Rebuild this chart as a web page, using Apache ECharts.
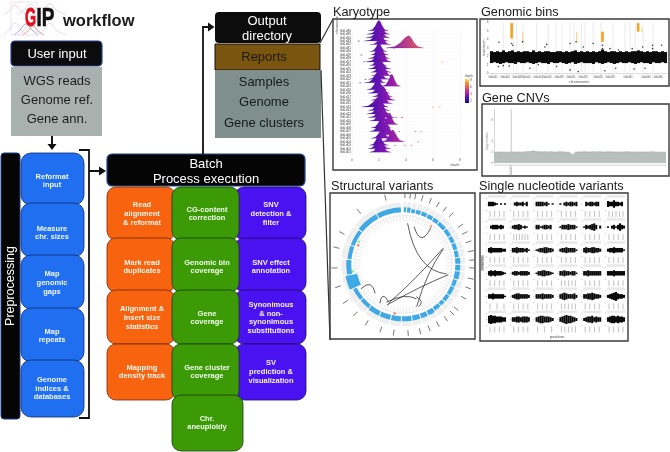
<!DOCTYPE html>
<html><head><meta charset="utf-8">
<script src="https://cdn.jsdelivr.net/npm/echarts@6/dist/echarts.min.js"></script>
<style>html,body{margin:0;padding:0;background:#fff;overflow:hidden}#c{width:670px;height:452px}</style></head>
<body><div id="c"></div><script>
// ---------- text content ----------
const userInputs = ['WGS reads','Genome ref.','Gene ann.'];
const outputs = ['Samples','Genome','Gene clusters'];
const preprocessSteps = ['Reformat\ninput','Measure\nchr. sizes','Map\ngenomic\ngaps','Map\nrepeats','Genome\nindices &\ndatabases'];
const alignSteps = ['Read\nalignment\n& reformat','Mark read\nduplicates','Alignment &\nInsert size\nstatistics','Mapping\ndensity track'];
const coverageSteps = ['CG-content\ncorrection','Genomic bin\ncoverage','Gene\ncoverage','Gene cluster\ncoverage','Chr.\naneuploidy'];
const variantSteps = ['SNV\ndetection &\nfilter','SNV effect\nannotation','Synonimous\n& non-\nsynonimous\nsubstitutions','SV\nprediction &\nvisualization'];

// ---------- karyotype ridges: peak, height (rows), left foot, right foot ----------
const karyoLabels = ['GdLd36','GdLd35','GdLd34','GdLd33','GdLd32','GdLd31','GdLd30','GdLd29','GdLd28','GdLd27','GdLd26','GdLd25','GdLd24','GdLd23','GdLd22','GdLd21','GdLd20','GdLd19','GdLd18','GdLd17','GdLd16','GdLd15','GdLd14','GdLd13','GdLd12','GdLd11','GdLd10','GdLd09','GdLd08','GdLd07','GdLd06','GdLd05','GdLd04','GdLd03','GdLd02','GdLd01'];
const karyoPeak = [2.0,2.1,2.1,2.0,2.2,4.2,2.0,2.0,2.1,2.2,1.9,2.1,2.1,2.3,2.0,1.9,2.95,1.9,2.1,2.3,2.4,2.3,2.0,2.0,2.1,2.2,2.1,2.8,2.2,2.1,2.6,2.2,3.0,2.0,2.0,2.1];
const karyoHeight = [3,2.6,2.5,2.6,2.2,3.6,2.5,2.8,3,3.2,2.3,2.5,3,2.8,2.7,2.4,3.5,3,2.8,3,3,2.6,3,3,3,3,2.5,3.2,2.8,2.5,3.2,2.4,3.5,3.1,3.1,3.2];
const karyoLeft = [1.2,1.1,1.0,0.9,1.3,2.5,1.3,1.4,1.2,1.0,1.3,1.2,1.4,1.4,1.2,0.9,2.2,1.1,1.2,1.5,1.4,1.5,0.7,1.2,1.1,1.2,1.3,2.0,1.4,1.3,1.9,1.4,2.2,1.3,1.2,1.3];
const karyoRight = [2.7,2.8,2.8,2.7,2.9,5.3,2.6,2.7,2.8,2.9,2.6,2.9,2.9,3.0,2.8,2.5,3.6,2.6,2.8,3.0,3.2,3.0,2.7,2.8,2.9,3.2,2.9,3.4,2.9,3.0,3.3,3.0,3.9,2.7,2.9,2.9];
const karyoOutliers = [[0.5,3],[0.7,7],[0.9,9],[0.6,15],[1.0,14],[6.7,9],[6.0,22],[6.5,22],[4.9,32],[5.1,29],[4.7,29],[3.7,25],[3.3,25],[3.5,29],[3.2,33],[3.9,33],[4.4,33],[3.1,5]];
const karyoTicks = [0,2,4,6,8];

// ---------- genomic bins ----------
const binTop = [2.6,2.5,2.6,2.5,2.7,2.5,2.6,2.7,2.5,2.6,2.5,2.6,2.6,2.5,2.7,2.5,2.6,2.5,2.6,2.6,2.5,2.5,2.6,2.6,2.5,2.6,2.5,2.6,2.7,2.5,2.6,2.5,2.6,2.5,2.6,2.5,2.6,2.8,2.6,2.5,2.6,2.6,2.5,2.6,2.5,2.6,2.5,2.6,2.6,2.7,2.6,2.5,2.6,2.5,2.6,2.6,2.5,2.6,2.5];
const binBottom = [1.2,1.3,1.2,1.1,1.2,1.3,1.2,1.2,1.1,1.3,1.2,1.2,1.3,1.2,1.1,1.2,1.3,1.2,1.2,1.1,1.3,1.2,1.2,1.3,1.2,1.1,1.2,1.3,1.1,1.2,1.3,1.2,1.2,1.2,1.1,1.3,1.2,1.1,1.2,1.3,1.2,1.1,1.2,1.3,1.2,1.2,1.3,1.2,1.1,1.2,1.3,1.2,1.2,1.1,1.3,1.2,1.2,1.3,1.2];
const binGrey = [4.4,7.8,8.9,11,15.5,19.4,22,24,26.7,28,30.5,31.7,34.4,37,41,45,46.7,48.4,51,54.4];
const binPoints = [[3,3.65],[7.2,3.5],[7.6,3.3],[10.9,3.7],[18.3,3.1],[18.9,3.4],[26.7,3.5],[28.7,3.7],[31.1,3.1],[34.4,3.5],[37.5,3.3],[37.5,2.9],[40,2.9],[42.8,2.75],[47.4,2.9],[50.9,3.1],[54.2,3.3],[54.2,2.9],[57.2,3.3],[2.8,0.8],[4.4,0.9],[6.4,0.85],[13.3,0.6],[16.1,1],[22.2,0.8],[26.7,0.4],[29.4,0.2],[38.3,0.3],[41.9,0.6],[48,0.5],[51.7,0.6]];
const binOrange = [[7.2,4.1,5.9],[37.5,3.7,4.9],[49.4,4.9,5.9]];
const binOrangeLight = [[10.9,3.6,4.8],[28.9,3.7,4.9],[50.6,4.9,5.3]];
const binTickAt = [1,5,9,12,16,19,23,27,31,36,40,46,52,56];
const binTickNames = ['GdLd01','GdLd04','GdLd08','GdLd10','GdLd14','GdLd16','GdLd19','GdLd21','GdLd23','GdLd26','GdLd28','GdLd31','GdLd34','GdLd36'];

// ---------- gene CNVs ----------
const cnvValues = [2.0,2.0,2.05,2.0,2.0,2.0,2.05,2.0,2.05,2.0,2.05,2.1,2.1,2.25,2.1,2.1,2.05,2.1,2.05,2.1,2.0,2.05,2.1,2.05,2.0,2.0,1.5,2.0,2.05,2.05,2.1,2.05,2.05,2.1,2.05,2.1,2.05,2.05,2.1,2.05,2.05,2.0,2.05,2.05,2.1,2.05,2.05,2.0,2.05,2.05,2.05,2.0,2.1,2.05,2.0,2.0,2.0,2.0];
const cnvSpike = [[5.7,2,10]];
const cnvYTicks = [0,2,4,8];

// ---------- structural variants ----------
const svEdges = [0,3.5,8,13,19,26,33,40,50,59,67,75,83,90,97,106,114,124,132,138,146,154,162,171,182,193,205,218,230,244,259,275,290,308,332,358];
const svTicks = [1.4,5.7,10,16,23,30,37,44,56,63,71,79,86.5,93,102,110,119,130,135,142,150,158,166,176,188,199,212,224,237,251,267,284,297,320,345];
const svBlueInner = [52,52,52,52,52,52,52,52,52,52,52,52,52,52,52,52,52,52,52,52,52,52,52,52,52,52,52,52,52,47,52,52,52,52,52];
const svBlueOuter = [57,57,56,56,56,56,56,56,56,56,56,56,57,57,57,56,56,56,56,56,57,57,57,57,57,57,57,56,56,59,57,56,56,57,57];
const svDots = [[50,297,'#5ce05c'],[49,293,'#f06a30'],[51,262,'#5ce05c'],[50,190,'#e8542a'],[47,36,'#f09050']];
// start radius/angle, end radius/angle, control radius/angle
const svLinks = [[41.2,6,44.4,102.6,14.3,116],[39.2,16,45.9,37,23.7,47],[43,68,41.8,201,20,147],[42.8,69,44.4,162.5,24.7,109],[46.2,103,44,202,27.5,144],[41.5,204,37,159,28.4,177],[35,158,45,160,43,150],[40.5,224,48.7,240,34.2,246],[45.4,211,40,202,33.6,220]];

// ---------- single nucleotide variants: band half-thickness along each panel ----------
const snvBands = [
 [3,3,3,2,1,0,1,0,1],[0,2,3,2,2,3,1,3,0],[3,3,3,3,2,3,1,0,1],[1,0,2,3,2,3,3,2,3],[0,3,2,3,3,2,3,3,0],[4,3,3,5,3,3,2,3,0],
 [0,2,3,3,3,2,3,2,0],[2,3,3,4,3,1,2,1,0],[3,3,1,2,3,3,2,3,0],[1,3,3,3,4,3,3,3,1],[1,3,2,3,4,5,3,0,2],[1,0,2,3,1,3,5,3,2],
 [3,4,3,3,3,3,3,2,2],[3,3,4,3,3,3,2,3,1],[1,2,3,3,4,4,3,3,2],[2,3,3,4,3,3,3,3,1],[3,4,3,3,4,4,3,3,2],[2,3,3,4,3,3,3,3,1],
 [3,4,3,4,3,3,3,2,1],[2,3,3,2,3,3,3,3,2],[1,3,3,4,4,3,3,2,1],[3,3,4,3,3,2,3,3,1],[3,3,4,3,3,3,3,3,3],[3,3,3,4,3,3,3,3,3],
 [3,3,4,3,3,3,3,3,1],[2,3,4,4,3,3,3,3,2],[3,3,3,4,3,3,3,3,2],[3,4,5,4,3,3,3,4,2],[3,3,4,4,5,4,3,3,2],[2,3,4,5,6,4,3,3,2],
 [5,6,5,5,4,4,4,3,3],[3,3,4,4,3,4,4,4,3],[3,4,5,5,4,4,4,3,2],[3,4,5,6,5,5,4,3,2],[2,3,4,4,5,3,4,3,3],[3,4,5,5,4,5,4,4,3]];
const snvTickCounts = [4,4,4,4,4,5, 4,6,4,4,4,4, 4,4,4,4,4,4, 4,4,4,5,4,4, 3,4,4,5,4,4, 4,4,3,5,4,4];

// ---------- helpers ----------
const SANS = '"Liberation Sans","Arial",sans-serif';
const box = (x0,y0,x1,y1,fill,stroke,r,lw) => ({type:'rect',shape:{x:x0,y:y0,width:x1-x0,height:y1-y0,r:r||0},style:{fill:fill,stroke:stroke||null,lineWidth:lw===undefined?1:lw}});
const txt = (x,y,s,size,color,bold,align,rot) => ({type:'text',x:x,y:y,rotation:rot||0,style:{text:s,font:(bold?'bold ':'')+size+'px '+SANS,fill:color,align:align||'center',verticalAlign:'middle',lineHeight:bold?8.8:undefined}});
const path = (pts,stroke,lw) => ({type:'polyline',shape:{points:pts},style:{stroke:stroke,lineWidth:lw,fill:null}});
const head = (pts) => ({type:'polygon',shape:{points:pts},style:{fill:'#111'}});
const curve = (pts,stroke,lw) => ({type:'polyline',shape:{points:pts,smooth:0.5},style:{stroke:stroke,lineWidth:lw,fill:null}});
const stops = [[0,'#1a0a90'],[2,'#5a12c0'],[3,'#a01cb0'],[4,'#d0288c'],[5,'#e8506a'],[6.5,'#f58a30'],[8,'#fde050']];
function colorAt(v){ for(let i=1;i<stops.length;i++){ if(v<=stops[i][0]){ const a=stops[i-1],b=stops[i]; return echarts.color.lerp((v-a[0])/(b[0]-a[0]),[a[1],b[1]]); } } return stops[stops.length-1][1]; }

// ---------- diagram ----------
const g = [];
const pale=['#e3cbd6','#cfd6e8'];
[[[4,15],[9,11],[15,5],[21,11],[27,15]],[[18,15],[24,10],[31,4],[37,10],[44,15]],[[38,15],[44,10],[50,4],[56,10],[66,15]],
 [[4,35],[9,30],[15,23],[21,30],[27,35]],[[18,35],[24,30],[31,23],[37,30],[44,35]],[[38,35],[44,30],[50,23],[56,30],[66,35]]]
 .forEach((p,i)=>g.push(curve(p,pale[i%2],0.8)));
g.push(curve([[14,35],[20,30],[26,24],[32,30],[38,35]],'#8c94cc',0.8));
g.push(curve([[22,35],[28,31],[33,26],[38,31],[44,35]],'#d89098',0.8));
g.push(box(11,2,37,35,null,'#dcd4e2',0,0.6));
g.push({type:'text',x:25,y:19,scaleX:0.57,style:{text:'G',font:'bold 25px '+SANS,fill:'#e01020',stroke:'#e01020',lineWidth:0.8,align:'left',verticalAlign:'middle'}});
g.push({type:'text',x:36.5,y:19,scaleX:0.76,style:{text:'IP',font:'bold 25px '+SANS,fill:'#111',stroke:'#111',lineWidth:0.6,align:'left',verticalAlign:'middle'}});
g.push(txt(63,21.5,'workflow',16.5,'#1a1a1a',true,'left'));
g.push(box(11,67,102,136,'#a9b1ae'));
g.push(box(11,41,102,66,'#0c0c0c','#2a3f8f',4,1.2));
g.push(txt(57,54,'User input',13,'#fff'));
[81,100,119].forEach((y,i)=>g.push(txt(57,y,userInputs[i],13,'#1d1d1d')));
g.push(path([[52,136],[52,145]],'#111',2)); g.push(head([[47.5,144],[56.5,144],[52,150]]));
g.push(box(1,153,20,419,'#050505','#1d3a8a',3,1));
g.push(txt(11,286,'Preprocessing',12.5,'#fff',false,'center',Math.PI/2));
const preY=[[153,205],[203,257],[255,309],[308,362],[360,417]], preT=[181,233,283,336,388.5];
preY.forEach((r,i)=>g.push(box(21,r[0],84,r[1],'#1f6ff0','#0f2a6e',10,0.8)));
preprocessSteps.forEach((s,i)=>g.push(txt(52,preT[i],s,7.5,'#f4f6ff',true)));
g.push(path([[79,150],[89,150],[89,418],[79,418]],'#111',1.8));
g.push(path([[89,171],[100,171]],'#111',2)); g.push(head([[99,166.5],[99,175.5],[106,171]]));
g.push(box(107,154,305,186,'#050505','#25468f',5,1.2));
g.push(txt(206,164,'Batch',13,'#fff')); g.push(txt(206,179,'Process execution',13,'#fff'));
const rowY=[[187,240],[238,292],[290,344],[344,400],[395,451]];
alignSteps.forEach((s,i)=>g.push(box(107,rowY[i][0],175,rowY[i][1],'#f8630f','#6a2a08',9,0.8)));
variantSteps.forEach((s,i)=>g.push(box(235,rowY[i][0],306,rowY[i][1],'#4a12f0','#1c0a60',9,0.8)));
coverageSteps.forEach((s,i)=>g.push(box(172,rowY[i][0],i==4?243:239,rowY[i][1],'#3c9a06','#173c06',9,0.8)));
const rowT=[214,267,318,372,423];
alignSteps.forEach((s,i)=>g.push(txt(142,rowT[i],s,7.5,'#fff6ee',true)));
coverageSteps.forEach((s,i)=>g.push(txt(207,rowT[i],s,7.5,'#f4fff0',true)));
variantSteps.forEach((s,i)=>g.push(txt(271,rowT[i],s,7.5,'#f4f2ff',true)));
g.push(path([[203,154],[203,27],[209,27]],'#111',1.8)); g.push(head([[208,22.5],[208,31.5],[214.5,27]]));
g.push(box(215,71,321,138,'#7f8f8e'));
g.push(box(215,44,320,70,'#7a5510','#111',0,1));
g.push(box(215,12,321,43,'#0c0c0c',null,4));
g.push(txt(267,21,'Output',13,'#fff')); g.push(txt(267,36,'directory',13,'#fff'));
g.push(txt(264,57,'Reports',13,'#1d1a10'));
[82,102,123].forEach((y,i)=>g.push(txt(264,y,outputs[i],13,'#141a1a')));
g.push(path([[320,43],[333,19]],'#333',1.2));
g.push(path([[321,70],[330,340]],'#333',1.2));
[[333,19,477,170],[480,19,669,86],[482,104,669,176],[330,193,475,339],[480,193,628,341]].forEach(f=>g.push(box(f[0],f[1],f[2],f[3],null,'#3a3a3a',0,1.4)));
g.push(txt(333,12,'Karyotype',12.7,'#1a1a1a',false,'left'));
g.push(txt(481,12,'Genomic bins',12.7,'#1a1a1a',false,'left'));
g.push(txt(482,98,'Gene CNVs',12.7,'#1a1a1a',false,'left'));
g.push(txt(331,186,'Structural variants',12.7,'#1a1a1a',false,'left'));
g.push(txt(479,186,'Single nucleotide variants',12.7,'#1a1a1a',false,'left'));
g.push({type:'rect',shape:{x:465,y:79,width:4,height:24},style:{fill:new echarts.graphic.LinearGradient(0,1,0,0,stops.map(s=>({offset:s[0]/8,color:s[1]})))}});
g.push(txt(465,76.5,'depth',3.2,'#555',false,'left'));
[['8',80],['6',87],['4',94],['2',101]].forEach(t=>g.push(txt(470,t[1],t[0],3.2,'#555',false,'left')));
g.push(txt(337.5,25,'chromosome',3,'#555',false,'center',Math.PI/2));
g.push(txt(455,165,'depth',3.5,'#555'));
g.push(txt(579,82,'chromosome',3.5,'#555'));
g.push(txt(484,48,'read depth',3.5,'#666',false,'center',Math.PI/2));
g.push(txt(487,141,'copy number',3.2,'#888',false,'center',Math.PI/2));
g.push(txt(511,170,'GdLd28',3,'#888',false,'center',Math.PI/2));
g.push(box(494,164.5,666,165.7,'#d6dedb'));
g.push(txt(557,337,'position',4,'#444'));
g.push(box(481,255,484,271,'#c8c8c8'));
g.push(txt(482.5,263,'frequency',3,'#666',false,'center',Math.PI/2));

// ---------- series helpers ----------
const segItem = (w) => (params,api) => {
  const a=api.coord([api.value(0),api.value(1)]), b=api.coord([api.value(0),api.value(2)]);
  return {type:'line',shape:{x1:a[0],y1:a[1],x2:b[0],y2:b[1]},style:{stroke:api.visual('color'),lineWidth:w}};
};
const ridgeShape=[[0,0],[.4,.12],[.65,.45],[.85,.85],[1,1]];
function ridgeItem(params,api){
  const row=api.value(0),p=api.value(1),h=api.value(2),l=api.value(3),r=api.value(4),pts=[];
  ridgeShape.forEach(s=>pts.push(api.coord([l+(p-l)*s[0],row-h*s[1]])));
  ridgeShape.slice().reverse().slice(1).forEach(s=>pts.push(api.coord([r-(r-p)*s[0],row-h*s[1]])));
  return {type:'polygon',shape:{points:pts},style:{fill:new echarts.graphic.LinearGradient(0,0,1,0,[{offset:0,color:colorAt(l)},{offset:1,color:colorAt(r)}]),stroke:'#3a1090',lineWidth:0.15}};
}
function arcPoints(api,r0,r1,a0,a1){
  const pts=[]; for(let a=a0;a<a1;a+=1.5) pts.push(api.coord([r1,a])); pts.push(api.coord([r1,a1]));
  for(let a=a1;a>a0;a-=1.5) pts.push(api.coord([r0,a])); pts.push(api.coord([r0,a0]));
  return pts;
}
const ringItem = (color) => (params,api) => ({type:'polygon',shape:{points:arcPoints(api,api.value(0),api.value(1),api.value(2),api.value(3))},style:{fill:color}});
function linkItem(params,api){
  const s=api.coord([api.value(0),api.value(1)]),e=api.coord([api.value(2),api.value(3)]),c=api.coord([api.value(4),api.value(5)]);
  return {type:'bezierCurve',shape:{x1:s[0],y1:s[1],x2:e[0],y2:e[1],cpx1:c[0],cpy1:c[1]},style:{stroke:'#333',lineWidth:0.8,fill:null}};
}
function spokeItem(params,api){
  const a=api.coord([66,api.value(0)]),b=api.coord([72,api.value(0)]);
  return {type:'line',shape:{x1:a[0],y1:a[1],x2:b[0],y2:b[1]},style:{stroke:'#666',lineWidth:0.9}};
}
const grids=[], xAxes=[], yAxes=[], series=[];
const tiny=(c)=>({fontSize:3.2,color:c||'#555',fontFamily:SANS});

// karyotype
grids.push({left:352,top:30.7,width:108,height:125});
xAxes.push({type:'value',min:0,max:8,interval:2,axisLine:{show:false},axisTick:{show:false},axisLabel:Object.assign(tiny(),{margin:3,customValues:karyoTicks}),splitLine:{lineStyle:{color:'#eee',width:0.5}}});
yAxes.push({type:'value',inverse:true,min:0,max:36,interval:1,axisLine:{show:false},axisTick:{show:false},axisLabel:Object.assign(tiny('#444'),{margin:1,formatter:v=>karyoLabels[v]||''}),splitLine:{lineStyle:{color:'#f6f6f6',width:0.4}}});
series.push({type:'custom',xAxisIndex:0,yAxisIndex:0,renderItem:ridgeItem,clip:false,encode:{x:1,y:0},data:karyoPeak.map((p,i)=>[i,p,karyoHeight[i],karyoLeft[i],karyoRight[i]])});
series.push({type:'scatter',xAxisIndex:0,yAxisIndex:0,symbol:'rect',symbolSize:[1.6,0.8],data:karyoOutliers,itemStyle:{color:p=>p.value[0]<2?'#3a0a90':colorAt(p.value[0])}});

// genomic bins
grids.push({left:490,top:22.3,width:177,height:51});
xAxes.push({type:'value',min:0,max:59,axisLine:{lineStyle:{color:'#bbb',width:0.5}},axisTick:{customValues:binTickAt,length:1,lineStyle:{color:'#888',width:0.4}},axisLabel:{fontSize:2.6,color:'#555',fontFamily:SANS,margin:2,customValues:binTickAt,formatter:v=>binTickNames[binTickAt.indexOf(v)]||''},splitLine:{show:false}});
yAxes.push({type:'value',min:0,max:6,interval:1,axisLine:{show:false},axisTick:{show:false},axisLabel:Object.assign(tiny(),{margin:1.5}),splitLine:{show:false}});
const gi=1;
series.push({type:'custom',xAxisIndex:gi,yAxisIndex:gi,renderItem:segItem(0.7),itemStyle:{color:'#e0e0e0'},encode:{x:0,y:2},data:binGrey.map(b=>[b,0.2,6])});
series.push({type:'custom',xAxisIndex:gi,yAxisIndex:gi,renderItem:segItem(3.1),itemStyle:{color:'#0b0b0b'},encode:{x:0,y:2},data:binTop.map((t,i)=>[i+0.5,binBottom[i],t])});
series.push({type:'custom',xAxisIndex:gi,yAxisIndex:gi,renderItem:segItem(2.6),itemStyle:{color:'#efa41c'},encode:{x:0,y:2},data:binOrange});
series.push({type:'custom',xAxisIndex:gi,yAxisIndex:gi,renderItem:segItem(1.6),itemStyle:{color:'#f5d9a0'},encode:{x:0,y:2},data:binOrangeLight});
series.push({type:'scatter',xAxisIndex:gi,yAxisIndex:gi,symbolSize:1.6,itemStyle:{color:'#0b0b0b'},data:binPoints});

// gene CNV
grids.push({left:494,top:109,width:172,height:54});
xAxes.push({type:'value',min:0,max:57,show:false});
yAxes.push({type:'value',min:0,max:10,axisLine:{show:true,lineStyle:{color:'#aaa',width:0.5}},axisTick:{customValues:cnvYTicks,length:1.5,lineStyle:{color:'#aaa',width:0.4}},axisLabel:Object.assign(tiny('#999'),{margin:1,customValues:cnvYTicks}),splitLine:{show:false}});
series.push({type:'line',xAxisIndex:2,yAxisIndex:2,showSymbol:false,lineStyle:{color:'#9aa5a0',width:0.6},areaStyle:{color:'#b7c0bc',opacity:1},data:cnvValues.map((v,i)=>[i,v])});
series.push({type:'custom',xAxisIndex:2,yAxisIndex:2,renderItem:segItem(0.8),clip:false,itemStyle:{color:'#b5b5b5'},encode:{x:0,y:2},data:cnvSpike});

// SNV panels
const strips=[];
snvBands.forEach((band,n)=>{
  const col=n%6,row=Math.floor(n/6),x0=488+col*23.8,y0=195+row*23.1,k=grids.length;
  grids.push({left:x0,top:y0+3,width:18,height:12});
  strips.push(box(x0,y0,x0+18,y0+2.6,'#e9e9e9'));
  xAxes.push({type:'value',min:0,max:9,show:false});
  yAxes.push({type:'value',min:-8,max:8,interval:8,axisLine:{show:false},axisTick:{show:false},axisLabel:{fontSize:2.4,color:'#888',margin:0.8,fontFamily:SANS},splitLine:{show:false}});
  series.push({type:'custom',xAxisIndex:k,yAxisIndex:k,renderItem:segItem(2.1),itemStyle:{color:'#0a0a0a'},encode:{x:0,y:2},data:band.map((h,i)=>[i+0.5,-h,h])});
  const m=snvTickCounts[n], ticks=[];
  for(let t=0;t<m;t++) ticks.push([1+t*7/(m-1),-9.3,-17.3]);
  series.push({type:'custom',xAxisIndex:k,yAxisIndex:k,renderItem:segItem(0.7),clip:false,itemStyle:{color:'#a8a8a8'},encode:{x:0,y:2},data:ticks});
});
strips.forEach(s=>g.push(s));
xAxes.forEach((a,i)=>{a.gridIndex=i;});
yAxes.forEach((a,i)=>{a.gridIndex=i;});

// structural variants (polar)
const svSeg = svTicks.map((t,i)=>[svEdges[i]+0.5,svEdges[i+1]-0.5]);
series.push({type:'custom',coordinateSystem:'polar',polarIndex:0,renderItem:ringItem('#efefef'),clip:false,encode:{radius:0,angle:2},data:svSeg.map(s=>[56,62,s[0],s[1]])});
series.push({type:'custom',coordinateSystem:'polar',polarIndex:0,renderItem:ringItem('#3fa9e6'),clip:false,encode:{radius:0,angle:2},data:svSeg.map((s,i)=>[svBlueInner[i],svBlueOuter[i],s[0],s[1]])});
series.push({type:'custom',coordinateSystem:'polar',polarIndex:0,renderItem:spokeItem,clip:false,encode:{radius:1,angle:0},data:svTicks.map(t=>[t,66])});
series.push({type:'custom',coordinateSystem:'polar',polarIndex:0,renderItem:linkItem,clip:false,encode:{radius:0,angle:1},data:svLinks});
series.push({type:'scatter',coordinateSystem:'polar',polarIndex:0,symbolSize:2.4,data:svDots.map(d=>({value:[d[0],d[1]],itemStyle:{color:d[2]}}))});
const option={
  backgroundColor:'#fff',animation:false,
  graphic:{elements:g},
  grid:grids,xAxis:xAxes,yAxis:yAxes,
  polar:[{center:[403.3,264.3],radius:[0,72]},{center:[403.3,264.3],radius:[0,49]}],
  radiusAxis:[{polarIndex:0,min:0,max:72,show:false},{polarIndex:1,min:0,max:49,show:false}],
  angleAxis:[{polarIndex:0,min:0,max:360,startAngle:90,show:false},
    {polarIndex:1,min:0,max:360,startAngle:90,interval:4,axisLine:{lineStyle:{color:'#ddd',width:0.6}},axisTick:{inside:true,length:6,lineStyle:{color:'#ddd',width:0.6}},axisLabel:{show:false},splitLine:{show:false}}],
  series:series
};
const chart=echarts.init(document.getElementById('c'),null,{renderer:'canvas'});
chart.setOption(option);
</script></body></html>
